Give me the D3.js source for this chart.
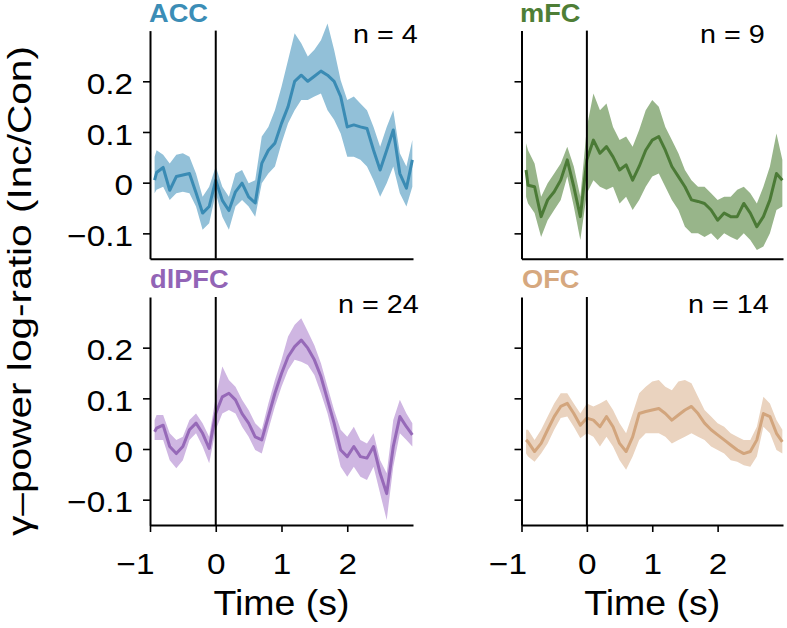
<!DOCTYPE html>
<html><head><meta charset="utf-8">
<script src="https://cdn.jsdelivr.net/npm/d3@7"></script>
<style>html,body{margin:0;padding:0;background:#fff;} svg{display:block;}</style>
</head><body>
<svg id="c" width="787" height="628"></svg>
<script>
// ---------------- DATA ----------------
const times = [-0.93,-0.9,-0.8,-0.7,-0.6,-0.5,-0.4,-0.3,-0.2,-0.1,0,0.1,0.2,0.3,0.4,0.5,0.6,0.7,0.8,0.9,1.0,
  1.1,1.2,1.3,1.4,1.5,1.6,1.7,1.8,1.9,2.0,2.1,2.2,2.3,2.4,2.5,2.6,2.7,2.8,2.9,2.99];

const accMean = [0.005,0.02,0.03,-0.015,0.012,0.015,0.018,-0.02,-0.06,-0.047,0.005,-0.035,-0.055,-0.018,-0.001,-0.028,-0.04,0.038,0.064,0.078,0.117,0.15,0.2,0.212,0.2,0.21,0.22,0.212,0.2,0.17,0.11,0.114,0.11,0.107,0.064,0.025,0.064,0.104,0.018,-0.011,0.045];
const accHi = [0.051,0.064,0.055,0.038,0.055,0.058,0.051,0.018,-0.028,-0.008,0.032,-0.008,-0.028,0.018,0.025,-0.001,0.005,0.091,0.110,0.143,0.189,0.242,0.295,0.275,0.249,0.262,0.281,0.314,0.262,0.202,0.163,0.170,0.156,0.143,0.110,0.071,0.110,0.143,0.058,0.032,0.084];
const accLo = [-0.021,-0.014,-0.008,-0.034,-0.021,-0.018,-0.021,-0.047,-0.093,-0.080,-0.021,-0.067,-0.093,-0.047,-0.034,-0.047,-0.067,-0.001,0.018,0.032,0.078,0.117,0.143,0.163,0.163,0.170,0.176,0.143,0.124,0.097,0.051,0.051,0.045,0.032,0.005,-0.028,-0.001,0.032,-0.021,-0.047,-0.008];

const mfcMean = [0.025,-0.005,-0.008,-0.067,-0.034,-0.018,0.005,0.045,-0.008,-0.067,0.045,0.084,0.058,0.071,0.051,0.025,0.035,0.005,0.032,0.064,0.084,0.091,0.064,0.032,0.012,-0.008,-0.034,-0.037,-0.041,-0.054,-0.074,-0.060,-0.067,-0.067,-0.041,-0.060,-0.087,-0.067,-0.034,0.018,0.005];
const mfcHi = [0.078,0.064,0.038,-0.028,-0.001,0.018,0.038,0.071,0.032,-0.028,0.110,0.176,0.143,0.156,0.110,0.084,0.091,0.071,0.104,0.143,0.163,0.150,0.110,0.084,0.058,0.025,0.005,-0.008,-0.008,-0.021,-0.034,-0.028,-0.028,-0.014,-0.008,-0.021,-0.041,-0.008,0.032,0.097,0.045];
const mfcLo = [-0.028,-0.041,-0.060,-0.107,-0.074,-0.054,-0.034,0.012,-0.047,-0.113,-0.021,0.005,-0.008,-0.014,-0.008,-0.041,-0.028,-0.054,-0.034,-0.008,0.012,0.018,-0.008,-0.034,-0.054,-0.087,-0.100,-0.100,-0.107,-0.100,-0.113,-0.100,-0.107,-0.113,-0.100,-0.113,-0.133,-0.126,-0.100,-0.054,-0.047];

const dlpfcMean = [0.034,0.041,0.047,0.005,-0.009,0.005,0.038,0.051,0.031,0.001,0.070,0.103,0.110,0.097,0.070,0.051,0.024,0.018,0.064,0.110,0.149,0.182,0.202,0.215,0.199,0.176,0.143,0.097,0.051,-0.002,-0.015,0.005,-0.015,-0.018,0.005,-0.048,-0.088,0.005,0.064,0.044,0.028];
const dlpfcHi = [0.057,0.067,0.067,0.031,0.018,0.024,0.057,0.070,0.051,0.024,0.103,0.163,0.136,0.123,0.097,0.077,0.051,0.038,0.090,0.136,0.176,0.222,0.245,0.258,0.232,0.205,0.169,0.123,0.077,0.038,0.024,0.044,0.018,0.011,0.031,-0.022,-0.048,0.057,0.097,0.070,0.051];
const dlpfcLo = [0.018,0.018,0.018,-0.022,-0.038,-0.022,0.018,0.031,0.005,-0.028,0.038,0.070,0.077,0.070,0.044,0.024,-0.002,-0.009,0.038,0.084,0.123,0.156,0.176,0.172,0.166,0.146,0.110,0.070,0.018,-0.035,-0.055,-0.035,-0.055,-0.061,-0.035,-0.088,-0.140,-0.035,0.031,0.018,0.005];

const ofcMean = [0.018,0.014,-0.005,0.011,0.038,0.064,0.084,0.090,0.070,0.047,0.061,0.057,0.044,0.064,0.044,0.011,-0.005,0.024,0.070,0.074,0.077,0.080,0.070,0.057,0.067,0.077,0.084,0.070,0.051,0.038,0.028,0.018,0.008,-0.002,-0.009,-0.005,0.018,0.070,0.064,0.031,0.014];
const ofcHi = [0.038,0.038,0.018,0.038,0.064,0.090,0.110,0.110,0.090,0.070,0.090,0.084,0.090,0.097,0.077,0.051,0.031,0.070,0.110,0.123,0.133,0.136,0.123,0.116,0.133,0.136,0.130,0.103,0.077,0.064,0.051,0.044,0.031,0.024,0.018,0.018,0.044,0.103,0.090,0.057,0.038];
const ofcLo = [-0.009,-0.015,-0.025,-0.009,0.011,0.038,0.061,0.064,0.044,0.021,0.031,0.024,0.005,0.024,0.005,-0.022,-0.041,-0.015,0.018,0.031,0.031,0.031,0.024,0.011,0.018,0.024,0.031,0.024,0.018,0.005,-0.002,-0.009,-0.022,-0.025,-0.032,-0.035,-0.015,0.044,0.031,-0.002,-0.009];

const regionNames = ["ACC","mFC","dlPFC","OFC"];
const nLabels = ["n = 4","n = 9","n = 24","n = 14"];
const yTicks = [-0.1,0,0.1,0.2];
const yTickLabels = ["\u22120.1","0","0.1","0.2"];
const xTicks = [-1,0,1,2];
const xTickLabels = ["\u22121","0","1","2"];
const xTitle = "Time (s)";
const yTitle = "\u03b3\u2013power log-ratio (Inc/Con)";

// ---------------- STYLE / LAYOUT ----------------
const FONT = "'Liberation Sans', Arial, Helvetica, sans-serif";
const lineColors = ["#3a8bb4","#4b7a36","#9669b8","#d2a57d"];
const bandColors = ["#92c0d8","#98b58a","#cfb6e2","#ead3bf"];
const titleColors = ["#3b8db6","#4e7e36","#9264b6","#d6a87f"];
const cols = [[150,413],[521.5,783]];
const rows = [[258.7,30.6],[525,297]];
const titlePos = [[149,22],[520,22],[150,288],[522,288]];
const nPos = [[353,42.7],[700,42.7],[338,313],[688,313]];

const means = [accMean,mfcMean,dlpfcMean,ofcMean];
const his = [accHi,mfcHi,dlpfcHi,ofcHi];
const los = [accLo,mfcLo,dlpfcLo,ofcLo];

const svg = d3.select("#c");

function stext(x, y, str, size, sx, opts = {}) {
  return svg.append("text")
    .attr("transform", `translate(${x},${y}) scale(${sx},1)`)
    .attr("font-family", FONT).attr("font-size", size)
    .attr("fill", opts.fill || "#000")
    .attr("font-weight", opts.bold ? "bold" : "normal")
    .attr("text-anchor", opts.anchor || "start")
    .text(str);
}

regionNames.forEach((name, k) => {
  const col = k % 2, row = Math.floor(k / 2);
  const x = d3.scaleLinear().domain([-1, 3]).range(cols[col]);
  const y = d3.scaleLinear().domain([-0.15, 0.3]).range(rows[row]);
  const pts = times.map((t, i) => ({t, m: means[k][i], lo: los[k][i], hi: his[k][i]}));
  const g = svg.append("g");

  g.append("path").datum(pts)
    .attr("d", d3.area().x(d => x(d.t)).y0(d => y(d.lo)).y1(d => y(d.hi)))
    .attr("fill", bandColors[k]);
  g.append("path").datum(pts)
    .attr("d", d3.line().x(d => x(d.t)).y(d => y(d.m)))
    .attr("fill", "none").attr("stroke", lineColors[k])
    .attr("stroke-width", 3).attr("stroke-linejoin", "round");

  // stimulus onset line
  g.append("line")
    .attr("x1", x(0)).attr("x2", x(0))
    .attr("y1", y(0.3)).attr("y2", y(-0.15))
    .attr("stroke", "#000").attr("stroke-width", 2);

  // y axis
  const ya = g.append("g").attr("transform", `translate(${x(-1)},0)`)
    .call(d3.axisLeft(y).tickValues(yTicks).tickSize(7).tickSizeOuter(0)
      .tickFormat((d, i) => col === 0 ? yTickLabels[i] : ""));
  ya.selectAll("text")
    .attr("font-family", FONT).attr("font-size", 29).attr("fill", "#000")
    .attr("x", -17 / 1.15).attr("dy", "0.42em")
    .attr("transform", "scale(1.15,1)");

  // x axis
  const xa = g.append("g").attr("transform", `translate(0,${y(-0.15)})`)
    .call(d3.axisBottom(x).tickValues(xTicks).tickSize(row === 1 ? 7 : 0).tickSizeOuter(0)
      .tickFormat((d, i) => row === 1 ? xTickLabels[i] : ""));
  xa.selectAll("text")
    .attr("font-family", FONT).attr("font-size", 29).attr("fill", "#000")
    .attr("y", 49).attr("dy", 0)
    .attr("x", (d, i) => i === 0 ? (col === 0 ? -15 : -14) / 1.15 : 0)
    .attr("transform", "scale(1.15,1)");

  [ya, xa].forEach(a => {
    a.select(".domain").attr("stroke", "#000").attr("stroke-width", 2);
    a.selectAll(".tick line").attr("stroke", "#000").attr("stroke-width", 1.6);
  });

  // titles
  stext(titlePos[k][0], titlePos[k][1], name, 25, 1.09, {bold: true, fill: titleColors[k]});
  stext(nPos[k][0], nPos[k][1], nLabels[k], 25, 1.15);

  if (row === 1) {
    stext((cols[col][0] + cols[col][1]) / 2, 615, xTitle, 35, 1.07, {anchor: "middle"});
  }
});

// shared y title
svg.append("text")
  .attr("transform", "translate(31,291) rotate(-90)")
  .attr("font-family", FONT).attr("font-size", 34)
  .attr("text-anchor", "middle")
  .attr("textLength", 490).attr("lengthAdjust", "spacingAndGlyphs")
  .attr("fill", "#000")
  .text(yTitle);
</script>
</body></html>
